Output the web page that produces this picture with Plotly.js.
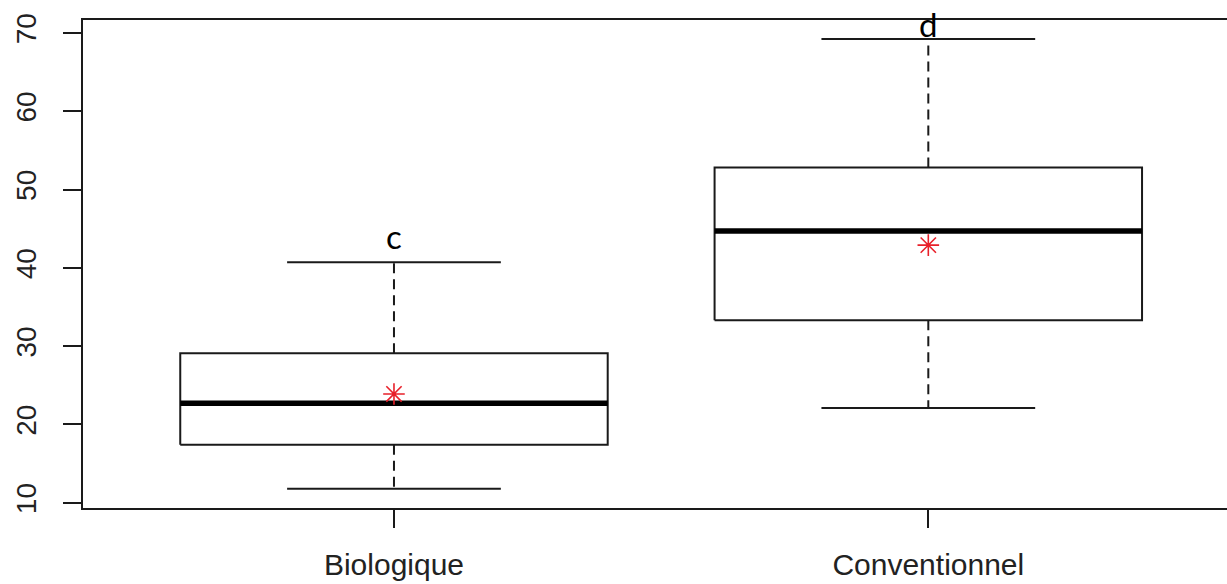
<!DOCTYPE html>
<html>
<head>
<meta charset="utf-8">
<script src="https://cdn.plot.ly/plotly-3.0.1.min.js"></script>
<style>
  html, body { margin: 0; padding: 0; background: #fff; }
  #chart { width: 1227px; height: 584px; }
</style>
</head>
<body>
<div id="chart"></div>
<script>
// Group labels and box statistics (whisker ends, quartiles, median, mean)
const categories = ['Biologique', 'Conventionnel'];
const positions = [1, 2];
const lowerWhisker = [11.8, 22.1];
const q1 = [17.4, 33.3];
const median = [22.7, 44.7];
const q3 = [29.1, 52.8];
const upperWhisker = [40.7, 69.2];
const means = [23.9, 42.9];

// Significance letters and where they sit on the y scale
const letters = ['c', 'd'];
const letterY = [44.1, 71.1];

const yTicks = [10, 20, 30, 40, 50, 60, 70];

const BOX_HALF = 0.4;     // half box width in x units
const CAP_HALF = 0.2;     // half whisker-cap width
const INK = '#1a1a1a';

const traces = [];
positions.forEach((p, i) => {
  // box outline
  traces.push({
    type: 'scatter', mode: 'lines', hoverinfo: 'skip', showlegend: false,
    x: [p - BOX_HALF, p + BOX_HALF, p + BOX_HALF, p - BOX_HALF, p - BOX_HALF],
    y: [q1[i], q1[i], q3[i], q3[i], q1[i]],
    line: { color: INK, width: 2 }
  });
  // median bar
  traces.push({
    type: 'scatter', mode: 'lines', hoverinfo: 'skip', showlegend: false,
    x: [p - BOX_HALF, p + BOX_HALF], y: [median[i], median[i]],
    line: { color: '#000', width: 5.5 }
  });
  // dashed whiskers
  traces.push({
    type: 'scatter', mode: 'lines', hoverinfo: 'skip', showlegend: false,
    x: [p, p, null, p, p],
    y: [q3[i], upperWhisker[i], null, q1[i], lowerWhisker[i]],
    line: { color: INK, width: 2, dash: '10px,6px' }
  });
  // whisker caps
  traces.push({
    type: 'scatter', mode: 'lines', hoverinfo: 'skip', showlegend: false,
    x: [p - CAP_HALF, p + CAP_HALF, null, p - CAP_HALF, p + CAP_HALF],
    y: [upperWhisker[i], upperWhisker[i], null, lowerWhisker[i], lowerWhisker[i]],
    line: { color: INK, width: 2 }
  });
});

// group means
traces.push({
  type: 'scatter', mode: 'markers', hoverinfo: 'skip', showlegend: false,
  x: positions, y: means,
  marker: { symbol: 'asterisk-open', size: 18, color: '#e8202a',
            line: { color: '#e8202a', width: 1.6 } }
});

const annotations = positions.map((p, i) => ({
  x: p, y: letterY[i], xref: 'x', yref: 'y',
  text: letters[i], showarrow: false,
  xanchor: 'center', yanchor: 'middle',
  font: { family: 'Lato, "Open Sans", sans-serif', size: 33, color: '#000' }
}));

const layout = {
  width: 1227, height: 584,
  margin: { l: 83, r: 0, t: 20, b: 76, pad: 0 },
  paper_bgcolor: '#fff', plot_bgcolor: '#fff',
  showlegend: false,
  xaxis: {
    range: [0.418, 2.559],
    tickmode: 'array', tickvals: positions, ticktext: categories,
    ticks: 'outside', ticklen: 18, tickwidth: 2, tickcolor: INK,
    ticklabelstandoff: 11,
    showline: true, linecolor: INK, linewidth: 2, mirror: true,
    showgrid: false, zeroline: false,
    tickfont: { family: '"Liberation Sans", Arial, sans-serif', size: 30, color: '#222' }
  },
  yaxis: {
    range: [9.336, 71.64],
    tickmode: 'array', tickvals: yTicks, ticktext: yTicks.map(String),
    tickangle: -90,
    ticks: 'outside', ticklen: 18, tickwidth: 2, tickcolor: INK,
    ticklabelstandoff: 16,
    showline: true, linecolor: INK, linewidth: 2, mirror: false,
    showgrid: false, zeroline: false,
    tickfont: { family: '"Liberation Sans", Arial, sans-serif', size: 28, color: '#222' }
  },
  annotations: annotations
};

Plotly.newPlot('chart', traces, layout, { displayModeBar: false, staticPlot: true });
</script>
</body>
</html>
